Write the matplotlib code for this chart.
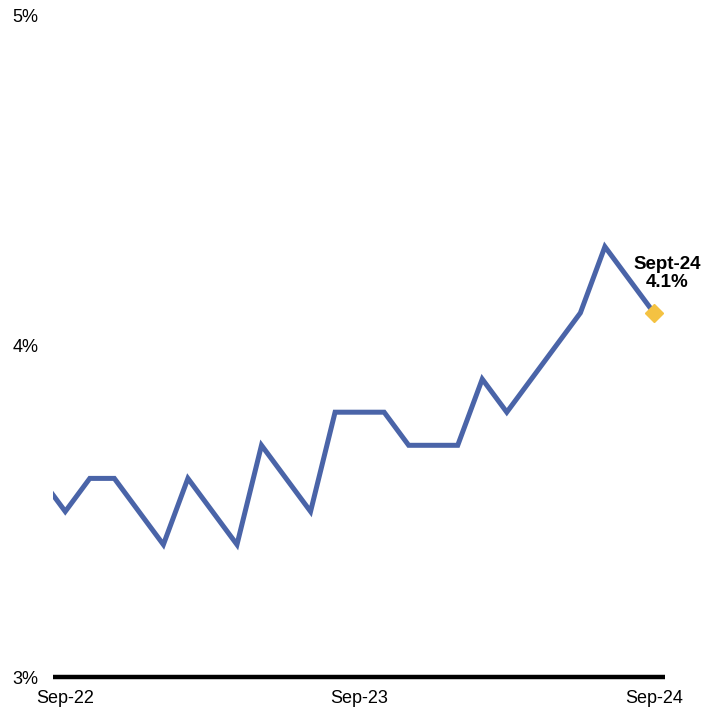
import numpy as np
import matplotlib.pyplot as plt

# monthly unemployment rate, Aug-22 .. Sep-24
months = ['Aug-22', 'Sep-22', 'Oct-22', 'Nov-22', 'Dec-22', 'Jan-23', 'Feb-23', 'Mar-23',
          'Apr-23', 'May-23', 'Jun-23', 'Jul-23', 'Aug-23', 'Sep-23', 'Oct-23', 'Nov-23',
          'Dec-23', 'Jan-24', 'Feb-24', 'Mar-24', 'Apr-24', 'May-24', 'Jun-24', 'Jul-24',
          'Aug-24', 'Sep-24']
rate = [3.6, 3.5, 3.6, 3.6, 3.5, 3.4, 3.6, 3.5,
        3.4, 3.7, 3.6, 3.5, 3.8, 3.8, 3.8, 3.7,
        3.7, 3.7, 3.9, 3.8, 3.9, 4.0, 4.1, 4.3,
        4.2, 4.1]
tick_labels = ['Sep-22', 'Sep-23', 'Sep-24']
yticks = [3, 4, 5]

plt.rcParams['font.family'] = ['Liberation Sans', 'DejaVu Sans']

x = np.arange(len(months)) - 1  # Sep-22 -> 0

fig = plt.figure(figsize=(7.2, 7.15), dpi=100)
ax = fig.add_axes([53 / 720, 38 / 715, 612 / 720, 662 / 715])

ax.plot(x, rate, color='#4a64a8', lw=3.6, solid_joinstyle='miter', zorder=3)
ax.plot(x[-1], rate[-1], marker='D', color='#f4c242', markersize=9, zorder=4, clip_on=False)
ax.annotate('Sept-24\n4.1%', (x[-1], rate[-1]), xytext=(9.5, 28.5), textcoords='offset points',
            ha='center', va='center', fontsize=13.5, fontweight='bold', linespacing=1.1)

ax.set_xlim(-0.5, 24.45)
ax.set_ylim(3, 5)
ax.set_yticks(yticks)
ax.set_yticklabels([f'{v}%' for v in yticks])
ax.set_xticks([months.index(m) - 1 for m in tick_labels])
ax.set_xticklabels(tick_labels)
ax.tick_params(axis='both', length=0, labelsize=13, colors='black')
ax.tick_params(axis='y', pad=10.5)
ax.tick_params(axis='x', pad=9.5)

for s in ['top', 'right', 'left']:
    ax.spines[s].set_visible(False)
ax.spines['bottom'].set_linewidth(3.2)
ax.spines['bottom'].set_color('black')
ax.spines['bottom'].set_capstyle('butt')
ax.spines['bottom'].set_zorder(5)

fig.savefig('out.png', dpi=100)
